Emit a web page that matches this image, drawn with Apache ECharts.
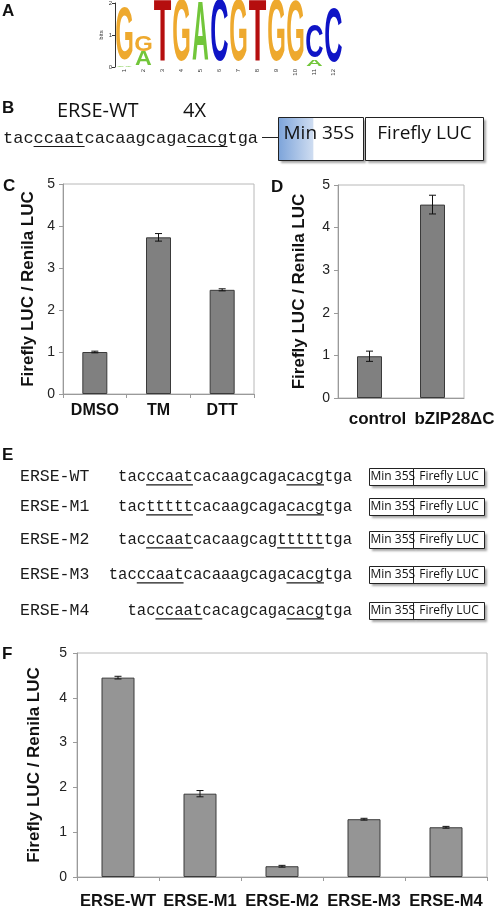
<!DOCTYPE html>
<html>
<head>
<meta charset="utf-8">
<script src="https://cdn.jsdelivr.net/npm/echarts@6/dist/echarts.min.js"></script>
<style>
html, body { margin: 0; padding: 0; background: #fff; }
#fig { width: 498px; height: 910px; }
</style>
</head>
<body>
<div id="fig"></div>
<script>
// A: motif logo (letters stacked bottom -> top, heights in bits)
const logoPositions = ['1', '2', '3', '4', '5', '6', '7', '8', '9', '10', '11', '12'];
const logoLetters = [['A', 'G'], ['A', 'G'], ['T'], ['G'], ['A'], ['C'], ['G'], ['T'], ['G'], ['G'], ['A', 'C'], ['C']];
const logoHeights = [[0.05, 1.67], [0.44, 0.50], [1.94], [1.95], [1.88], [1.97], [1.95], [1.95], [1.95], [1.90], [0.20, 1.02], [1.69]];
const logoColors = {G: '#EEA92E', A: '#72C63A', T: '#B50E0E', C: '#0F14C6'};

// C: treatments
const treatCategories = ['DMSO', 'TM', 'DTT'];
const treatValues = [1.00, 3.73, 2.48];
const treatErrors = [0.02, 0.09, 0.025];

// D: effector
const effectorCategories = ['control', 'bZIP28\u0394C'];
const effectorValues = [0.98, 4.54];
const effectorErrors = [0.12, 0.22];

// F: mutated constructs
const constructCategories = ['ERSE-WT', 'ERSE-M1', 'ERSE-M2', 'ERSE-M3', 'ERSE-M4'];
const constructValues = [4.45, 1.86, 0.24, 1.29, 1.11];
const constructErrors = [0.03, 0.07, 0.02, 0.02, 0.02];

// B / E: element sequences and underlined boxes (char index ranges)
const wtSequence = 'tacccaatcacaagcagacacgtga';
const wtUnderlines = [[3, 8], [18, 22]];
const constructNames = ['ERSE-WT', 'ERSE-M1', 'ERSE-M2', 'ERSE-M3', 'ERSE-M4'];
const constructSequences = [
  'tacccaatcacaagcagacacgtga',
  'tactttttcacaagcagacacgtga',
  'tacccaatcacaagcagttttttga',
  'tacccaatcacaaagcagacacgtga',
  'tacccaatcacagcagacacgtga'
];
const constructUnderlines = [[[3, 8], [18, 22]], [[3, 8], [18, 22]], [[3, 8], [17, 22]], [[3, 8], [19, 23]], [[3, 8], [17, 21]]];

const SANS = '"Liberation Sans", Arial, sans-serif';
const CAL = '"Open Sans", "Liberation Sans", sans-serif';
const MONO = '"Liberation Mono", "Courier New", monospace';

const measureCtx = document.createElement('canvas').getContext('2d');
function charWidth(font) {
  measureCtx.font = font;
  return measureCtx.measureText('acgt').width / 4;
}

function label(x, y, text, font, align, fill) {
  return {
    type: 'text', x: x, y: y, silent: true,
    style: {text: text, font: font, fill: fill || '#111', textAlign: align || 'left', textVerticalAlign: 'middle'}
  };
}

function sequenceRow(seq, ranges, x, y, size, alignRight) {
  const font = size + 'px ' + MONO;
  const cw = charWidth(font);
  const left = alignRight ? x - seq.length * cw : x;
  const els = [label(left, y, seq, font, 'left', '#1a1a1a')];
  ranges.forEach(function (r) {
    els.push({
      type: 'line', silent: true,
      shape: {x1: left + r[0] * cw, y1: y + size * 0.5, x2: left + r[1] * cw, y2: y + size * 0.5},
      style: {stroke: '#1a1a1a', lineWidth: 1.2}
    });
  });
  return els;
}

function reporterBox(x, y, w1, w2, gap, h, size, blue) {
  const els = [];
  const shadow = {shadowBlur: 2, shadowOffsetX: 2, shadowOffsetY: 2, shadowColor: 'rgba(0,0,0,0.35)'};
  els.push({type: 'rect', silent: true, shape: {x: x, y: y, width: w1, height: h}, style: Object.assign({fill: '#fff'}, shadow)});
  els.push({type: 'rect', silent: true, shape: {x: x + w1 + gap, y: y, width: w2, height: h}, style: Object.assign({fill: '#fff'}, shadow)});
  if (blue) {
    els.push({
      type: 'rect', silent: true, shape: {x: x, y: y, width: w1 * 0.41, height: h},
      style: {fill: new echarts.graphic.LinearGradient(0, 0, 1, 0, [{offset: 0, color: '#7DA4DA'}, {offset: 1, color: '#CFDDF1'}])}
    });
  }
  els.push({type: 'rect', silent: true, shape: {x: x, y: y, width: w1, height: h}, style: {fill: null, stroke: '#222', lineWidth: 1}});
  els.push({type: 'rect', silent: true, shape: {x: x + w1 + gap, y: y, width: w2, height: h}, style: {fill: null, stroke: '#222', lineWidth: 1}});
  const font = size + 'px ' + CAL;
  els.push(label(x + (blue ? 5 : 1), y + h / 2 - (blue ? 5 : 0), 'Min 35S', font, 'left', '#111'));
  els.push(label(x + w1 + gap + w2 / 2, y + h / 2 - (blue ? 5 : 0), 'Firefly LUC', font, 'center', '#111'));
  return els;
}

// logo stacks -> flat data rows [position, bottom, top]
const logoData = [];
const logoFlatLetters = [];
logoLetters.forEach(function (stack, i) {
  let base = 0;
  stack.forEach(function (l, k) {
    logoData.push([i, base, base + logoHeights[i][k]]);
    logoFlatLetters.push(l);
    base += logoHeights[i][k];
  });
});
const inkWidth = {G: 0.70, A: 0.72, T: 0.58, C: 0.66};

function renderLetter(params, api) {
  const i = api.value(0);
  const b = api.coord([i, api.value(1)]);
  const t = api.coord([i, api.value(2)]);
  const band = api.size([1, 0])[0];
  const l = logoFlatLetters[params.dataIndex];
  const h = b[1] - t[1];
  return {
    type: 'text',
    x: b[0], y: (b[1] + t[1]) / 2,
    scaleX: band * 0.88 / (inkWidth[l] * 100),
    scaleY: h / (0.72 * 100),
    style: {text: l, font: 'bold 100px ' + SANS, fill: logoColors[l], textAlign: 'center', textVerticalAlign: 'middle'}
  };
}

function renderError(params, api) {
  const x = api.value(0);
  const lo = api.coord([x, api.value(1)]);
  const hi = api.coord([x, api.value(2)]);
  const cap = 3.5;
  const st = {stroke: '#111', lineWidth: 1};
  return {
    type: 'group',
    children: [
      {type: 'line', shape: {x1: lo[0], y1: lo[1], x2: hi[0], y2: hi[1]}, style: st},
      {type: 'line', shape: {x1: lo[0] - cap, y1: lo[1], x2: lo[0] + cap, y2: lo[1]}, style: st},
      {type: 'line', shape: {x1: hi[0] - cap, y1: hi[1], x2: hi[0] + cap, y2: hi[1]}, style: st}
    ]
  };
}

function errData(values, errors) {
  return values.map(function (v, i) { return [i, v - errors[i], v + errors[i]]; });
}

function valueAxis(gridIndex, gap, margin) {
  return {
    type: 'value', gridIndex: gridIndex, min: 0, max: 5, interval: 1,
    name: 'Firefly LUC / Renila LUC', nameLocation: 'middle', nameRotate: 90, nameGap: gap,
    nameTextStyle: {fontFamily: SANS, fontWeight: 'bold', fontSize: 17, color: '#111'},
    axisLine: {show: true, lineStyle: {color: '#9a9a9a'}},
    axisTick: {show: true, length: 4, lineStyle: {color: '#9a9a9a'}},
    axisLabel: {fontFamily: SANS, fontSize: 14, color: '#222', margin: margin},
    splitLine: {show: false}
  };
}

function categoryAxis(gridIndex, data, size, margin, ticks) {
  return {
    type: 'category', gridIndex: gridIndex, data: data,
    axisLine: {show: true, lineStyle: {color: '#9a9a9a'}},
    axisTick: {show: ticks, length: 4, lineStyle: {color: '#9a9a9a'}},
    axisLabel: {fontFamily: SANS, fontWeight: 'bold', fontSize: size, color: '#111', margin: margin, interval: 0}
  };
}

const gridBox = {show: true, borderColor: '#b8b8b8', borderWidth: 1, backgroundColor: 'transparent'};

// the D labels sit right of their bars in the original
const effectorLabelShift = [16, 44];
const effectorAxisData = effectorCategories.map(function (c, i) {
  return {value: c, textStyle: {padding: [0, 0, 0, effectorLabelShift[i]]}};
});

let graphics = [];
const panelFont = 'bold 17px ' + SANS;
graphics.push(label(2, 11, 'A', panelFont));
graphics.push(label(2, 108, 'B', panelFont));
graphics.push(label(3, 186, 'C', panelFont));
graphics.push(label(271, 187, 'D', panelFont));
graphics.push(label(2, 455, 'E', panelFont));
graphics.push(label(2, 654, 'F', panelFont));

// B
graphics.push(label(57, 111, 'ERSE-WT', '20px ' + CAL));
graphics.push(label(183, 111, '4X', '20px ' + CAL));
graphics = graphics.concat(sequenceRow(wtSequence, wtUnderlines, 3, 138, 17, false));
graphics.push({type: 'line', silent: true, shape: {x1: 262, y1: 137.5, x2: 278, y2: 137.5}, style: {stroke: '#222', lineWidth: 1}});
graphics = graphics.concat(reporterBox(278.5, 117.5, 85, 118, 2, 43, 19, true));

// E
const rowY = [477, 507, 540, 575, 611];
constructNames.forEach(function (n, i) {
  graphics.push(label(20, rowY[i], n, '16.5px ' + MONO, 'left', '#1a1a1a'));
  graphics = graphics.concat(sequenceRow(constructSequences[i], constructUnderlines[i], 352, rowY[i], 15.6, true));
  graphics = graphics.concat(reporterBox(369.5, rowY[i] - 8.5, 44, 71, 0, 17, 12, false));
});

const chart = echarts.init(document.getElementById('fig'));
chart.setOption({
  animation: false,
  backgroundColor: '#fff',
  grid: [
    {left: 115, top: 3, width: 228, height: 64},
    Object.assign({left: 63, top: 184, width: 191, height: 210}, gridBox),
    Object.assign({left: 338, top: 185, width: 126, height: 213}, gridBox),
    Object.assign({left: 77, top: 653, width: 410, height: 225}, gridBox)
  ],
  xAxis: [
    {
      type: 'category', gridIndex: 0, data: logoPositions,
      axisLine: {show: false}, axisTick: {show: false},
      axisLabel: {rotate: 90, fontSize: 6, fontFamily: SANS, color: '#333', margin: 2, interval: 0}
    },
    categoryAxis(1, treatCategories, 16, 9, true),
    categoryAxis(2, effectorAxisData, 17, 13, false),
    categoryAxis(3, constructCategories, 16.5, 16, true)
  ],
  yAxis: [
    {
      type: 'value', gridIndex: 0, min: 0, max: 2, interval: 1,
      name: 'bits', nameLocation: 'middle', nameRotate: 90, nameGap: 11,
      nameTextStyle: {fontSize: 6, fontFamily: SANS, color: '#333'},
      axisLine: {show: true, lineStyle: {color: '#333'}},
      axisTick: {show: true, length: 3, lineStyle: {color: '#333'}},
      axisLabel: {fontSize: 6, fontFamily: SANS, color: '#333', margin: 3},
      splitLine: {show: false}
    },
    valueAxis(1, 26, 8),
    valueAxis(2, 30, 8),
    valueAxis(3, 34, 10)
  ],
  series: [
    {
      type: 'custom', xAxisIndex: 0, yAxisIndex: 0, data: logoData,
      encode: {x: 0, y: [1, 2]}, renderItem: renderLetter, clip: false
    },
    {
      type: 'bar', xAxisIndex: 1, yAxisIndex: 1, data: treatValues, barWidth: 25,
      itemStyle: {color: '#808080', borderColor: '#3a3a3a', borderWidth: 1}
    },
    {
      type: 'custom', xAxisIndex: 1, yAxisIndex: 1, data: errData(treatValues, treatErrors),
      encode: {x: 0, y: [1, 2]}, renderItem: renderError, z: 5
    },
    {
      type: 'bar', xAxisIndex: 2, yAxisIndex: 2, data: effectorValues, barWidth: 25,
      itemStyle: {color: '#808080', borderColor: '#3a3a3a', borderWidth: 1}
    },
    {
      type: 'custom', xAxisIndex: 2, yAxisIndex: 2, data: errData(effectorValues, effectorErrors),
      encode: {x: 0, y: [1, 2]}, renderItem: renderError, z: 5
    },
    {
      type: 'bar', xAxisIndex: 3, yAxisIndex: 3, data: constructValues, barWidth: 33,
      itemStyle: {color: '#959595', borderColor: '#3a3a3a', borderWidth: 1}
    },
    {
      type: 'custom', xAxisIndex: 3, yAxisIndex: 3, data: errData(constructValues, constructErrors),
      encode: {x: 0, y: [1, 2]}, renderItem: renderError, z: 5
    }
  ],
  graphic: graphics
});
</script>
</body>
</html>
